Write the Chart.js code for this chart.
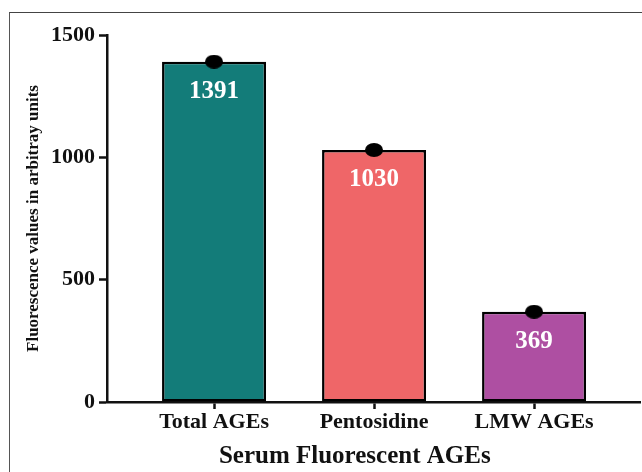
<!DOCTYPE html>
<html lang="en">
<head>
  <meta charset="UTF-8" />
  <title>Serum Fluorescent AGEs</title>
  <script src="https://cdn.jsdelivr.net/npm/chart.js"></script>
  <style>
    body { margin: 0; padding: 0; background: #fff; overflow: hidden; }
    .wrap { position: relative; width: 650px; height: 472px; }
    .frame {
      position: absolute; left: 9px; top: 12px; right: 0; bottom: 0;
      border-left: 1.5px solid #555; border-top: 1.5px solid #444;
      pointer-events: none;
    }
  </style>
</head>
<body>
  <div class="wrap">
    <div class="frame"></div>
    <canvas id="agesChart"></canvas>
  </div>

  <script>
    const categories = ['Total AGEs', 'Pentosidine', 'LMW AGEs'];
    const positions = [1, 2, 3];
    const values = [1391, 1030, 369];
    const barColors = ['#137c79', '#ef6668', '#ae4fa2'];
    const yTicks = [0, 500, 1000, 1500];

    const serif = "'Liberation Serif', 'Times New Roman', serif";

    // black oval marker sitting on each bar top
    const dot = document.createElement('canvas');
    dot.width = 18; dot.height = 14;
    const dctx = dot.getContext('2d');
    dctx.fillStyle = '#000';
    dctx.beginPath();
    dctx.ellipse(9, 7, 9, 7, 0, 0, Math.PI * 2);
    dctx.fill();

    // white value labels inside bars
    const valueLabels = {
      id: 'valueLabels',
      afterDatasetsDraw(chart) {
        const meta = chart.getDatasetMeta(1);
        const ctx = chart.ctx;
        ctx.save();
        ctx.fillStyle = '#fff';
        ctx.font = 'bold 25px ' + serif;
        ctx.textAlign = 'center';
        ctx.textBaseline = 'middle';
        meta.data.forEach((bar, i) => {
          ctx.fillText(String(values[i]), bar.x, bar.y + 30);
        });
        ctx.restore();
      }
    };

    new Chart(document.getElementById('agesChart'), {
      type: 'bar',
      data: {
        datasets: [
          {
            type: 'scatter',
            data: positions.map((p, i) => ({ x: p, y: values[i] })),
            pointStyle: dot,
            pointRadius: 9,
            order: 0
          },
          {
            type: 'bar',
            data: positions.map((p, i) => ({ x: p, y: values[i] })),
            backgroundColor: barColors,
            borderColor: '#000',
            borderWidth: 2.5,
            borderSkipped: false,
            barPercentage: 0.65,
            categoryPercentage: 1,
            order: 1
          }
        ]
      },
      options: {
        responsive: true,
        maintainAspectRatio: false,
        animation: false,
        layout: { padding: { top: 35, right: 2, bottom: 0, left: 0 } },
        plugins: { legend: { display: false }, tooltip: { enabled: false } },
        scales: {
          x: {
            type: 'linear',
            min: 0.331,
            max: 3.662,
            offset: false,
            afterFit(scale) { scale.height = 70; },
            afterBuildTicks(scale) { scale.ticks = positions.map(v => ({ value: v })); },
            ticks: {
              callback: (v) => categories[positions.indexOf(v)] || '',
              color: '#111',
              font: { family: serif, size: 22, weight: 'bold' },
              padding: 0,
              maxRotation: 0
            },
            grid: {
              offset: false,
              drawOnChartArea: false,
              tickLength: 7,
              tickWidth: 2.5,
              tickColor: '#111'
            },
            border: { display: true, color: '#111', width: 2.5 },
            title: {
              display: true,
              text: 'Serum Fluorescent AGEs      ',
              color: '#111',
              font: { family: serif, size: 25, weight: 'bold' },
              padding: { top: 0, bottom: 0 }
            }
          },
          y: {
            min: 0,
            max: 1500,
            afterFit(scale) { scale.width = 107; },
            afterBuildTicks(scale) { scale.ticks = yTicks.map(v => ({ value: v })); },
            ticks: {
              callback: (v) => String(v),
              color: '#111',
              font: { family: serif, size: 22, weight: 'bold' },
              padding: 4
            },
            grid: {
              drawOnChartArea: false,
              tickLength: 8,
              tickWidth: 2.5,
              tickColor: '#111'
            },
            border: { display: true, color: '#111', width: 2.5 },
            title: {
              display: true,
              text: 'Fluorescence values in arbitray units',
              color: '#111',
              font: { family: serif, size: 17, weight: 'bold' },
              padding: { top: 23, bottom: 0 }
            }
          }
        }
      },
      plugins: [valueLabels]
    });
  </script>
</body>
</html>
